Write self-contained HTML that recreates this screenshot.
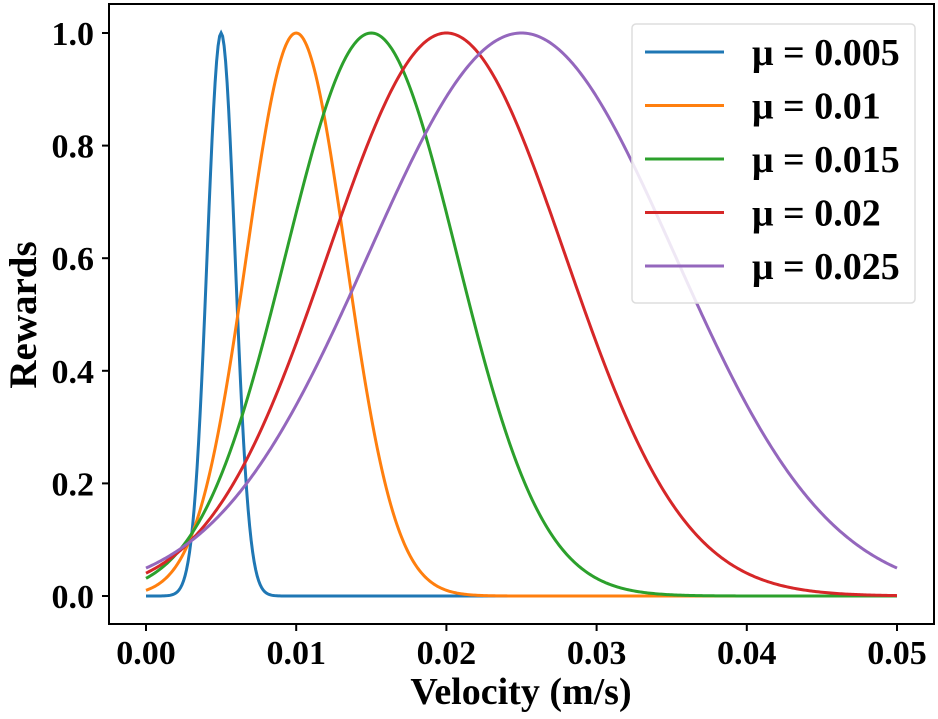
<!DOCTYPE html>
<html><head><meta charset="utf-8"><style>
body{margin:0;background:#fff}
svg{display:block;font-family:"Liberation Serif",serif;font-weight:bold}
</style></head><body>
<svg id="chart" width="938" height="719" viewBox="0 0 938 719">
<rect x="109" y="4" width="825" height="620" fill="none" stroke="#000" stroke-width="2"/>
<g id="ticks"></g>
<g id="series"></g>
<text x="521" y="704" font-size="38" text-anchor="middle">Velocity (m/s)</text>
<text transform="translate(36,315) rotate(-90)" font-size="39" text-anchor="middle">Rewards</text>
<g>
<rect x="632" y="24" width="283" height="279" rx="4" fill="#fff" fill-opacity="0.85" stroke="#ddd" stroke-width="1.5"/>
<g id="legend-items"></g>
</g>
</svg>
<script>
const mus=[0.005,0.01,0.015,0.02,0.025];
const sigmas=[0.00093,0.0033,0.0057,0.0079,0.0102];
const labels=["μ = 0.005","μ = 0.01","μ = 0.015","μ = 0.02","μ = 0.025"];
const colors=["#1f77b4","#ff7f0e","#2ca02c","#d62728","#9467bd"];
const xTicks=[0,0.01,0.02,0.03,0.04,0.05];
const xTickLabels=["0.00","0.01","0.02","0.03","0.04","0.05"];
const yTicks=[0,0.2,0.4,0.6,0.8,1.0];
const yTickLabels=["0.0","0.2","0.4","0.6","0.8","1.0"];
const NS="http://www.w3.org/2000/svg";
const xs=v=>146+v/0.05*751;
const ys=v=>596-v*563;
const tg=document.getElementById('ticks');
function mk(tag,attrs,parent){const e=document.createElementNS(NS,tag);for(const k in attrs)e.setAttribute(k,attrs[k]);parent.appendChild(e);return e;}
xTicks.forEach((t,i)=>{
 const l=mk('line',{x1:xs(t),x2:xs(t),y1:624,y2:631,stroke:'#000','stroke-width':2},tg);
 
 
 const tx=mk('text',{x:xs(t),y:664,'font-size':34,'text-anchor':'middle'},tg);
 tx.textContent=xTickLabels[i];
 
 
});
yTicks.forEach((t,i)=>{
 const l=mk('line',{x1:102,x2:109,y1:ys(t),y2:ys(t),stroke:'#000','stroke-width':2},tg);
 
 
 const tx=mk('text',{x:94,y:ys(t)+12,'font-size':34,'text-anchor':'end'},tg);
 tx.textContent=yTickLabels[i];
 
 
});
const sg=document.getElementById('series');
mus.forEach((mu,i)=>{
 const s=sigmas[i];let d='';
 for(let k=0;k<=500;k++){const v=0.05*k/500;const r=Math.exp(-(v-mu)*(v-mu)/(2*s*s));d+=(k?'L':'M')+xs(v).toFixed(2)+','+ys(r).toFixed(2);}
 const p=mk('path',{d:d,fill:'none',stroke:colors[i],'stroke-width':3},sg);
 
 
});
const lg=document.getElementById('legend-items');
labels.forEach((lab,i)=>{
 const y=52+i*53.5;
 const l=mk('line',{x1:645,x2:724,y1:y,y2:y,stroke:colors[i],'stroke-width':3},lg);
 
 
 const t=mk('text',{x:752,y:y+13,'font-size':38},lg);
 t.textContent=lab;
 
 
});
</script>
</body></html>
